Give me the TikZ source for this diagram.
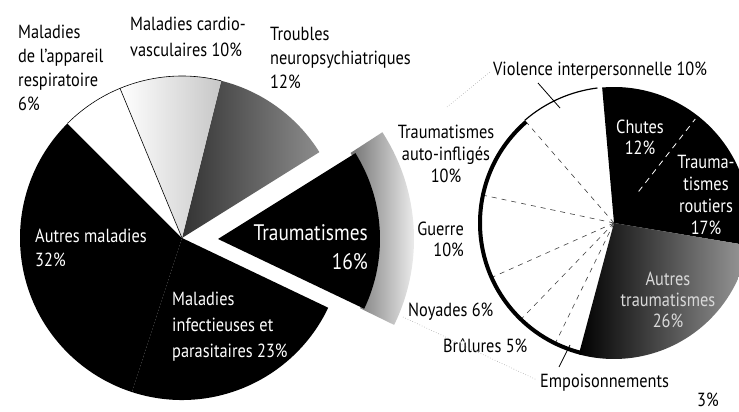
\documentclass[tikz,border=0pt]{standalone}
\usepackage{fontspec}
\setmainfont{PT Sans}[FakeStretch=0.86]
\usepackage{tikz}
\usetikzlibrary{calc}
\tikzset{lbl/.style={inner sep=0pt,font=\fontsize{19}{24}\selectfont},
 lblw/.style={lbl,text=white},
 bigw/.style={inner sep=0pt,text=white,font=\fontsize{22.5}{29}\selectfont},
 divider/.style={draw=black!75,line width=0.6pt,dash pattern=on 5pt off 5pt},
 faint/.style={draw=black!35,line width=0.6pt,dotted},
 leader/.style={draw=black,line width=0.8pt},
 }

\begin{document}
\begin{tikzpicture}[x=1pt,y=1pt]
        \useasboundingbox (0,0) rectangle (739,412);
        \clip (0,0) rectangle (739,412);
        \coordinate (lc) at (182,174);
        \coordinate (tc) at (218,173);
        \coordinate (rc) at (614,189);

        \shade [left color=black!55, right color=white] ($(tc)+(-26:158)$) arc [start angle=-26, end angle=33, radius=158] -- ($(tc)+(33:196)$) arc [start angle=33, end angle=-26, radius=196] -- cycle;

        \fill [black] (lc) -- ++(135:162) arc [start angle=135, end angle=252, radius=162] -- cycle;
        \fill [black] (lc) -- ++(252:162) arc [start angle=252, end angle=334.5, radius=162] -- cycle;
        \shade [left color=black!80, right color=black!45] (lc) -- ++(32:162) arc [start angle=32, end angle=76, radius=162] -- cycle;
        \shade [left color=white, right color=black!22] (lc) -- ++(76:162) arc [start angle=76, end angle=112.5, radius=162] -- cycle;
        \fill [white] (lc) -- ++(112.5:162) arc [start angle=112.5, end angle=135, radius=162] -- cycle;
        \draw [line width=0.6pt] (lc) -- ++(112.5:162);
        \draw [line width=0.6pt] ($(lc)+(76:162)$) arc [start angle=76, end angle=135, radius=162];
        \fill [black] (tc) -- ++(-25.5:162) arc [start angle=-25.5, end angle=32, radius=162] -- cycle;

        \fill [white] (rc) -- ++(96:136) arc [start angle=96, end angle=255, radius=136] -- cycle;
        \fill [black] (rc) -- ++(-9.5:136) arc [start angle=-9.5, end angle=95, radius=136] -- cycle;
        \shade [left color=black, right color=black!40] (rc) -- ++(-105:136) arc [start angle=-105, end angle=-9.5, radius=136] -- cycle;
        \draw [white, line width=0.8pt, dash pattern=on 6pt off 5pt] ($(rc)+(52:40)$) -- ($(rc)+(52:132)$);
        \draw [divider] (rc) -- ++(131:136);
        \draw [divider] (rc) -- ++(168:136);
        \draw [divider] (rc) -- ++(204:136);
        \draw [divider] (rc) -- ++(226:136);
        \draw [divider] (rc) -- ++(244:136);
        \draw [line width=4pt] ($(rc)+(131:134)$) arc [start angle=131, end angle=256, radius=134];
        \draw [line width=1.2pt] ($(rc)+(97:136)$) arc [start angle=97, end angle=131, radius=136];

        \node [lbl, anchor=north west, align=left] (resp) at (18,387) {Maladies\\de l'appareil\\respiratoire\\6\%};
        \node [lbl, anchor=north west, align=left, font=\fontsize{19}{26}\selectfont] (cardio) at (130,395) {Maladies cardio-\\vasculaires 10\%};
        \node [lbl, anchor=north west, align=left] (neuro) at (270,385) {Troubles\\neuropsychiatriques\\12\%};
        \node [lblw, anchor=north west, align=left] (autres) at (35,183) {Autres maladies\\32\%};
        \node [lblw, anchor=north west, align=left, font=\fontsize{19}{26}\selectfont] (infect) at (172,120) {Maladies\\infectieuses et\\parasitaires 23\%};
        \node [bigw, anchor=north east, align=right] (trauma) at (368,188) {Traumatismes\\16\%};

        \node [lbl, anchor=north west] (violence) at (493,350) {Violence interpersonnelle 10\%};
        \node [lbl, anchor=north, align=center, font=\fontsize{19}{22}\selectfont] (auto) at (446,287) {Traumatismes\\auto-infligés\\10\%};
        \node [lbl, anchor=north east, align=right, font=\fontsize{19}{21}\selectfont] (guerre) at (464,190) {Guerre\\10\%};
        \node [lbl, anchor=north west] (noyades) at (408,109) {Noyades 6\%};
        \node [lbl, anchor=north west] (brulures) at (443,74) {Brûlures 5\%};
        \node [lbl, anchor=north west, align=left, font=\fontsize{19}{19}\selectfont] (empois) at (540,38) {Empoisonnements\\\hspace*{157pt}3\%};
        \node [lblw, anchor=north, align=center, font=\fontsize{19}{21}\selectfont] (chutes) at (640,292) {Chutes\\12\%};
        \node [lblw, anchor=north, align=center, font=\fontsize{19}{22}\selectfont] (routiers) at (706,257) {Trauma-\\tismes\\routiers\\17\%};
        \node [lbl, text=black!15, anchor=north, align=center, font=\fontsize{19}{21}\selectfont] (autrestr) at (668,140) {Autres\\traumatismes\\26\%};

        \coordinate (v1) at (538,329);
        \coordinate (v2) at (560,304);
        \draw [leader] (v1) -- (v2);
        \coordinate (e1) at (559,45);
        \coordinate (e2) at (570,67);
        \draw [leader] (e1) -- (e2);
        \coordinate (f1) at (403,95);
        \coordinate (f2) at (537,32);
        \draw [faint] (f1) -- (f2);
        \coordinate (g1) at (447,305);
        \coordinate (g2) at (490,340);
        \draw [faint] (g1) -- (g2);
    \end{tikzpicture}
\end{document}
